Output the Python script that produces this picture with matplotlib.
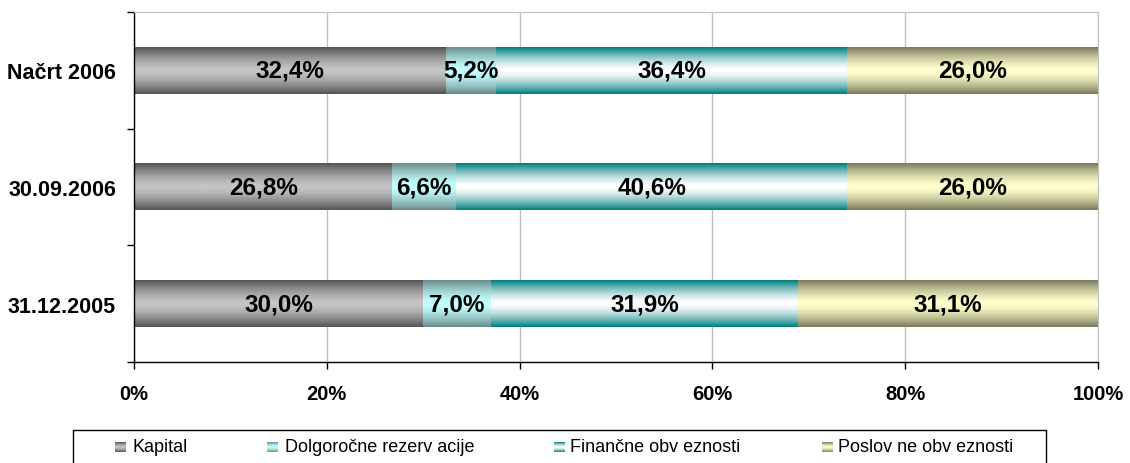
import matplotlib
matplotlib.use('Agg')
import matplotlib.pyplot as plt
import numpy as np
from matplotlib.colors import LinearSegmentedColormap
from matplotlib.patches import Rectangle

plt.rcParams['font.family'] = ['Liberation Sans', 'DejaVu Sans']

categories = ['31.12.2005', '30.09.2006', 'Načrt 2006']
kapital = [30.0, 26.8, 32.4]
dolgorocne = [7.0, 6.6, 5.2]
financne = [31.9, 40.6, 36.4]
poslovne = [31.1, 26.0, 26.0]

series = [kapital, dolgorocne, financne, poslovne]
names = ['Kapital', 'Dolgoročne rezerv acije', 'Finančne obv eznosti', 'Poslov ne obv eznosti']
# edge colour, centre colour of each gradient
shades = [('#555555', '#c4c4c4'),
          ('#6a8c8c', '#c4ffff'),
          ('#008080', '#ffffff'),
          ('#7c7a5c', '#ffffcc')]

# vertical gradient: dark at top/bottom, light in the middle
prof = np.abs(np.linspace(-1, 1, 64)) ** 1.5
grad = (1 - prof).reshape(-1, 1)

fig = plt.figure(figsize=(11.3, 4.64), dpi=100)
ax = fig.add_axes([134 / 1130, 1 - 363 / 464, 964 / 1130, 350 / 464])

h = 0.40
ypos = np.arange(len(categories))
left = np.zeros(len(categories))
for vals, (dark, light) in zip(series, shades):
    cmap = LinearSegmentedColormap.from_list('g', [dark, light])
    for i, v in enumerate(vals):
        ax.imshow(grad, extent=[left[i], left[i] + v, ypos[i] - h / 2, ypos[i] + h / 2],
                  aspect='auto', cmap=cmap, vmin=0, vmax=1, zorder=2, interpolation='bilinear')
        lab = f'{v:.1f}%'.replace('.', ',')
        ax.text(left[i] + v / 2, ypos[i], lab, ha='center', va='center',
                fontsize=17.5, fontweight='bold', zorder=3)
    left += np.array(vals)

ax.set_xlim(0, 100)
ax.set_ylim(-0.5, len(categories) - 0.5)

ax.set_xticks(np.arange(0, 101, 20))
ax.set_xticklabels([f'{x}%' for x in range(0, 101, 20)], fontsize=14.5, fontweight='bold')
ax.tick_params(axis='x', direction='out', length=5, width=1, pad=11)

ax.set_yticks(np.arange(-0.5, len(categories), 1.0))
ax.set_yticklabels([])
ax.set_yticks(ypos, minor=True)
ax.set_yticklabels(categories, minor=True, fontsize=15.5, fontweight='bold')
ax.tick_params(axis='y', which='major', direction='out', length=5, width=1)
ax.tick_params(axis='y', which='minor', length=0, pad=13)

ax.grid(axis='x', color='#c0c0c0', linewidth=1)
ax.set_axisbelow(True)
ax.spines['top'].set_color('#c0c0c0')
ax.spines['right'].set_color('#c0c0c0')
ax.spines['left'].set_linewidth(1)
ax.spines['bottom'].set_linewidth(1)

# legend box along the bottom edge
W, H = 1130, 464
fig.patches.append(Rectangle((73 / W, -0.05), (1046 - 73) / W, 0.05 + 1 - 431 / H,
                             transform=fig.transFigure, facecolor='white',
                             edgecolor='black', linewidth=1, zorder=-1))
mark_x = [115, 267, 554, 822]
text_x = [132, 285, 570, 838]
for (dark, light), name, mx, tx in zip(shades, names, mark_x, text_x):
    cmap = LinearSegmentedColormap.from_list('g', [dark, light])
    max_ = fig.add_axes([mx / W, 1 - 453 / H, 11 / W, 10 / H])
    max_.set_zorder(5)
    max_.imshow(grad, aspect='auto', cmap=cmap, vmin=0, vmax=1, interpolation='bilinear')
    max_.axis('off')
    fig.text(tx / W, 1 - 448 / H, name, ha='left', va='center', fontsize=13)

fig.savefig('out.png', dpi=100)
